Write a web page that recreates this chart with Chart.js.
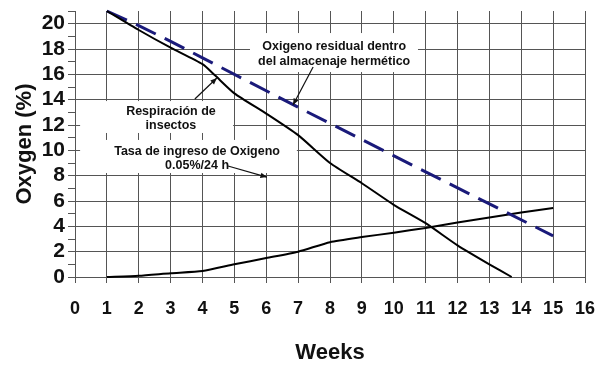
<!DOCTYPE html>
<html>
<head>
<meta charset="utf-8">
<script src="https://cdn.jsdelivr.net/npm/chart.js@4/dist/chart.umd.min.js"></script>
<style>
  html, body { margin: 0; padding: 0; background: #fff; }
  #wrap { width: 599px; height: 369px; }
</style>
</head>
<body>
<div id="wrap"><canvas id="chart"></canvas></div>
<script>
// Data (weeks vs oxygen %)
const respWeeks = [1, 2, 3, 4, 4.4, 5, 6, 7, 8, 9, 10, 11, 12, 13, 13.7];
const respOxygen = [21, 19.5, 18.1, 16.8, 15.9, 14.5, 12.9, 11.2, 9.0, 7.4, 5.7, 4.25, 2.5, 1.0, 0];

const residualWeeks = [1, 2, 3, 4, 7, 11, 15];
const residualOxygen = [21, 19.85, 18.6, 17.3, 13.4, 8.3, 3.25];

const intakeWeeks = [1, 2, 3, 4, 5, 6, 7, 8, 9, 10, 11, 12, 13, 14, 15];
const intakeOxygen = [0, 0.1, 0.3, 0.47, 1.0, 1.5, 2.0, 2.75, 3.15, 3.5, 3.87, 4.3, 4.7, 5.1, 5.44];

const xTicks = [0, 16];
const yTicks = [0, 21];

const FONT = '"Liberation Sans", Arial, sans-serif';
const GRID = '#555';

function toPoints(xs, ys) {
  return xs.map((x, i) => ({ x: x, y: ys[i] }));
}

// Text notes with white boxes and arrows (positions in data units)
const notes = [
  {
    lines: ["Oxigeno residual dentro", "del almacenaje hermético"],
    at: [8.13, 18.16], lineGap: 15,
    box: [5.49, 10.76, 16.18, 19.26],
    arrow: [7.47, 16.58, 6.84, 13.58]
  },
  {
    lines: ["Respiración de", "insectos"],
    at: [3.01, 13.03], lineGap: 14,
    box: [0.16, 4.96, 11.37, 13.89],
    arrow: [3.76, 14.05, 4.45, 15.71]
  },
  {
    lines: ["Tasa de ingreso de Oxigeno", "0.05%/24 h"],
    at: [3.83, 9.87], lineGap: 14,
    box: [0.16, 6.96, 8.21, 10.82],
    arrow: [4.80, 8.76, 6.02, 7.89]
  }
];

const notesPlugin = {
  id: "notes",
  beforeDatasetsDraw(chart) {
    const { ctx, scales: { x, y } } = chart;
    ctx.save();
    notes.forEach(n => {
      const x0 = x.getPixelForValue(n.box[0]);
      const x1 = x.getPixelForValue(n.box[1]);
      const y0 = y.getPixelForValue(n.box[2]);
      const y1 = y.getPixelForValue(n.box[3]);
      ctx.fillStyle = "#fff";
      ctx.fillRect(x0, y1, x1 - x0, y0 - y1);
      ctx.fillStyle = "#111";
      ctx.font = "bold 12.5px " + FONT;
      ctx.textAlign = "center";
      ctx.textBaseline = "middle";
      const cx = x.getPixelForValue(n.at[0]);
      const cy = y.getPixelForValue(n.at[1]);
      n.lines.forEach((t, i) => ctx.fillText(t, cx, cy + i * n.lineGap));
    });
    ctx.restore();
  },
  afterDatasetsDraw(chart) {
    const { ctx, scales: { x, y } } = chart;
    ctx.save();
    notes.forEach(n => {
      const ax = x.getPixelForValue(n.arrow[0]);
      const ay = y.getPixelForValue(n.arrow[1]);
      const bx = x.getPixelForValue(n.arrow[2]);
      const by = y.getPixelForValue(n.arrow[3]);
      ctx.strokeStyle = "#111";
      ctx.fillStyle = "#111";
      ctx.lineWidth = 1.2;
      ctx.beginPath();
      ctx.moveTo(ax, ay);
      ctx.lineTo(bx, by);
      ctx.stroke();
      const ang = Math.atan2(by - ay, bx - ax);
      ctx.beginPath();
      ctx.moveTo(bx, by);
      ctx.lineTo(bx - 7 * Math.cos(ang - 0.4), by - 7 * Math.sin(ang - 0.4));
      ctx.lineTo(bx - 7 * Math.cos(ang + 0.4), by - 7 * Math.sin(ang + 0.4));
      ctx.closePath();
      ctx.fill();
    });
    ctx.restore();
  }
};

new Chart(document.getElementById("chart"), {
  type: "line",
  data: {
    datasets: [
      {
        label: "Respiración de insectos",
        data: toPoints(respWeeks, respOxygen),
        borderColor: "#000",
        borderWidth: 2,
        pointRadius: 0,
        tension: 0.2,
        clip: false
      },
      {
        label: "Oxigeno residual",
        data: toPoints(residualWeeks, residualOxygen),
        borderColor: "#1a1a7a",
        borderWidth: 3,
        borderDash: [22, 10],
        pointRadius: 0,
        tension: 0,
        clip: false
      },
      {
        label: "Tasa de ingreso",
        data: toPoints(intakeWeeks, intakeOxygen),
        borderColor: "#000",
        borderWidth: 2,
        pointRadius: 0,
        tension: 0.2,
        clip: false
      }
    ]
  },
  options: {
    responsive: true,
    maintainAspectRatio: false,
    animation: false,
    layout: { padding: { top: 11, right: 14, left: 0, bottom: 0 } },
    plugins: {
      legend: { display: false },
      tooltip: { enabled: false }
    },
    scales: {
      x: {
        type: "linear",
        min: xTicks[0],
        max: xTicks[1],
        afterFit: s => { s.height = 92; s.paddingLeft = 0; s.paddingRight = 0; },
        ticks: {
          stepSize: 1,
          autoSkip: false,
          color: "#111",
          padding: 15,
          font: { family: FONT, size: 18, weight: "bold" }
        },
        grid: { color: GRID, tickColor: GRID, tickLength: 6, lineWidth: 1 },
        border: { display: true, color: GRID },
        title: {
          display: true,
          text: "Weeks",
          color: "#111",
          padding: { top: 3, bottom: 3 },
          font: { family: FONT, size: 22, weight: "bold" }
        }
      },
      y: {
        type: "linear",
        min: yTicks[0],
        max: yTicks[1],
        afterFit: s => { s.width = 75; s.paddingTop = 0; s.paddingBottom = 0; },
        ticks: {
          stepSize: 1,
          autoSkip: false,
          color: "#111",
          padding: 3,
          font: { family: FONT, size: 21, weight: "bold" },
          callback: v => (v % 2 === 0 ? v : "")
        },
        grid: {
          color: c => (c.tick && c.tick.value % 2 === 0 ? GRID : "transparent"),
          tickColor: GRID,
          tickLength: 7,
          lineWidth: 1
        },
        border: { display: true, color: GRID },
        title: {
          display: true,
          text: "Oxygen (%)",
          color: "#111",
          padding: { top: 12, bottom: 12 },
          font: { family: FONT, size: 22, weight: "bold" }
        }
      }
    }
  },
  plugins: [notesPlugin]
});
</script>
</body>
</html>
